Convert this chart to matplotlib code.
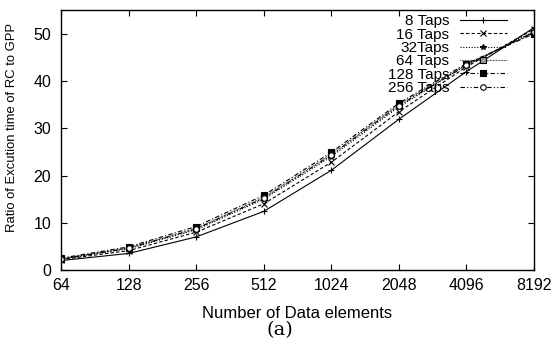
import matplotlib
matplotlib.use("Agg")
import matplotlib.pyplot as plt
import numpy as np

# data
elements = [64, 128, 256, 512, 1024, 2048, 4096, 8192]
taps8   = [2.0, 3.5, 7.0, 12.4, 21.1, 31.9, 42.0, 51.3]
taps16  = [2.2, 4.1, 8.0, 14.0, 22.8, 33.5, 43.0, 51.0]
taps32  = [2.3, 4.5, 8.5, 15.0, 24.0, 34.5, 43.4, 50.5]
taps64  = [2.4, 4.7, 8.8, 15.4, 24.5, 35.0, 43.5, 50.2]
taps128 = [2.5, 4.9, 9.2, 15.8, 24.9, 35.3, 43.7, 50.0]
taps256 = [2.3, 4.6, 8.7, 15.2, 24.3, 34.8, 43.3, 50.4]
labels  = ["8 Taps", "16 Taps", "32Taps", "64 Taps", "128 Taps", "256 Taps"]

plt.rcParams['font.family'] = ['Liberation Sans', 'DejaVu Sans']

fig = plt.figure(figsize=(5.57, 3.5), dpi=100)
ax = fig.add_axes([0.1095, 0.2286, 0.9587 - 0.1095, 0.971 - 0.2286])

x = np.log2(elements)
series = [taps8, taps16, taps32, taps64, taps128, taps256]
styles = [
    dict(ls="-",  marker="+", ms=5, mfc="k"),
    dict(ls=(0, (3, 2)), marker="x", ms=4, mfc="k"),
    dict(ls=(0, (1, 1.5)), marker="*", ms=4, mfc="k"),
    dict(ls=(0, (0.6, 0.8)), marker="s", ms=4.5, mfc="#999999"),
    dict(ls=(0, (4, 2, 1, 2)), marker="s", ms=5, mfc="k"),
    dict(ls=(0, (4, 2, 1, 2, 1, 2)), marker="o", ms=4, mfc="white"),
]
for y, lab, st in zip(series, labels, styles):
    ax.plot(x, y, color="k", lw=0.8, mec="k", mew=0.8, label=lab, **st)

ax.set_xlim(x[0], x[-1])
ax.set_ylim(0, 55)
ax.set_xticks(x)
ax.set_xticklabels([str(e) for e in elements])
ax.set_yticks([0, 10, 20, 30, 40, 50])
ax.tick_params(direction="in", top=True, right=True, length=4, width=0.8, labelsize=11.5)
ax.tick_params(axis="x", pad=6)
ax.tick_params(axis="y", pad=7)
for s in ax.spines.values():
    s.set_linewidth(1.0)

ax.set_ylabel("Ratio of Excution time of RC to GPP", fontsize=9.4)
ax.yaxis.set_label_coords(-0.091, 0.55)
ax.set_xlabel("Number of Data elements", fontsize=12, labelpad=9)

# legend: text left, sample right
leg = ax.legend(loc="upper right", frameon=False, markerfirst=False, fontsize=11,
                handlelength=3.1, labelspacing=-0.04, borderaxespad=0.0,
                handletextpad=0.7, bbox_to_anchor=(0.956, 1.008))

fig.text(0.503, 0.057, "(a)", ha="center", va="center", fontsize=14, family="DejaVu Serif")

fig.savefig("out.png", dpi=100)
